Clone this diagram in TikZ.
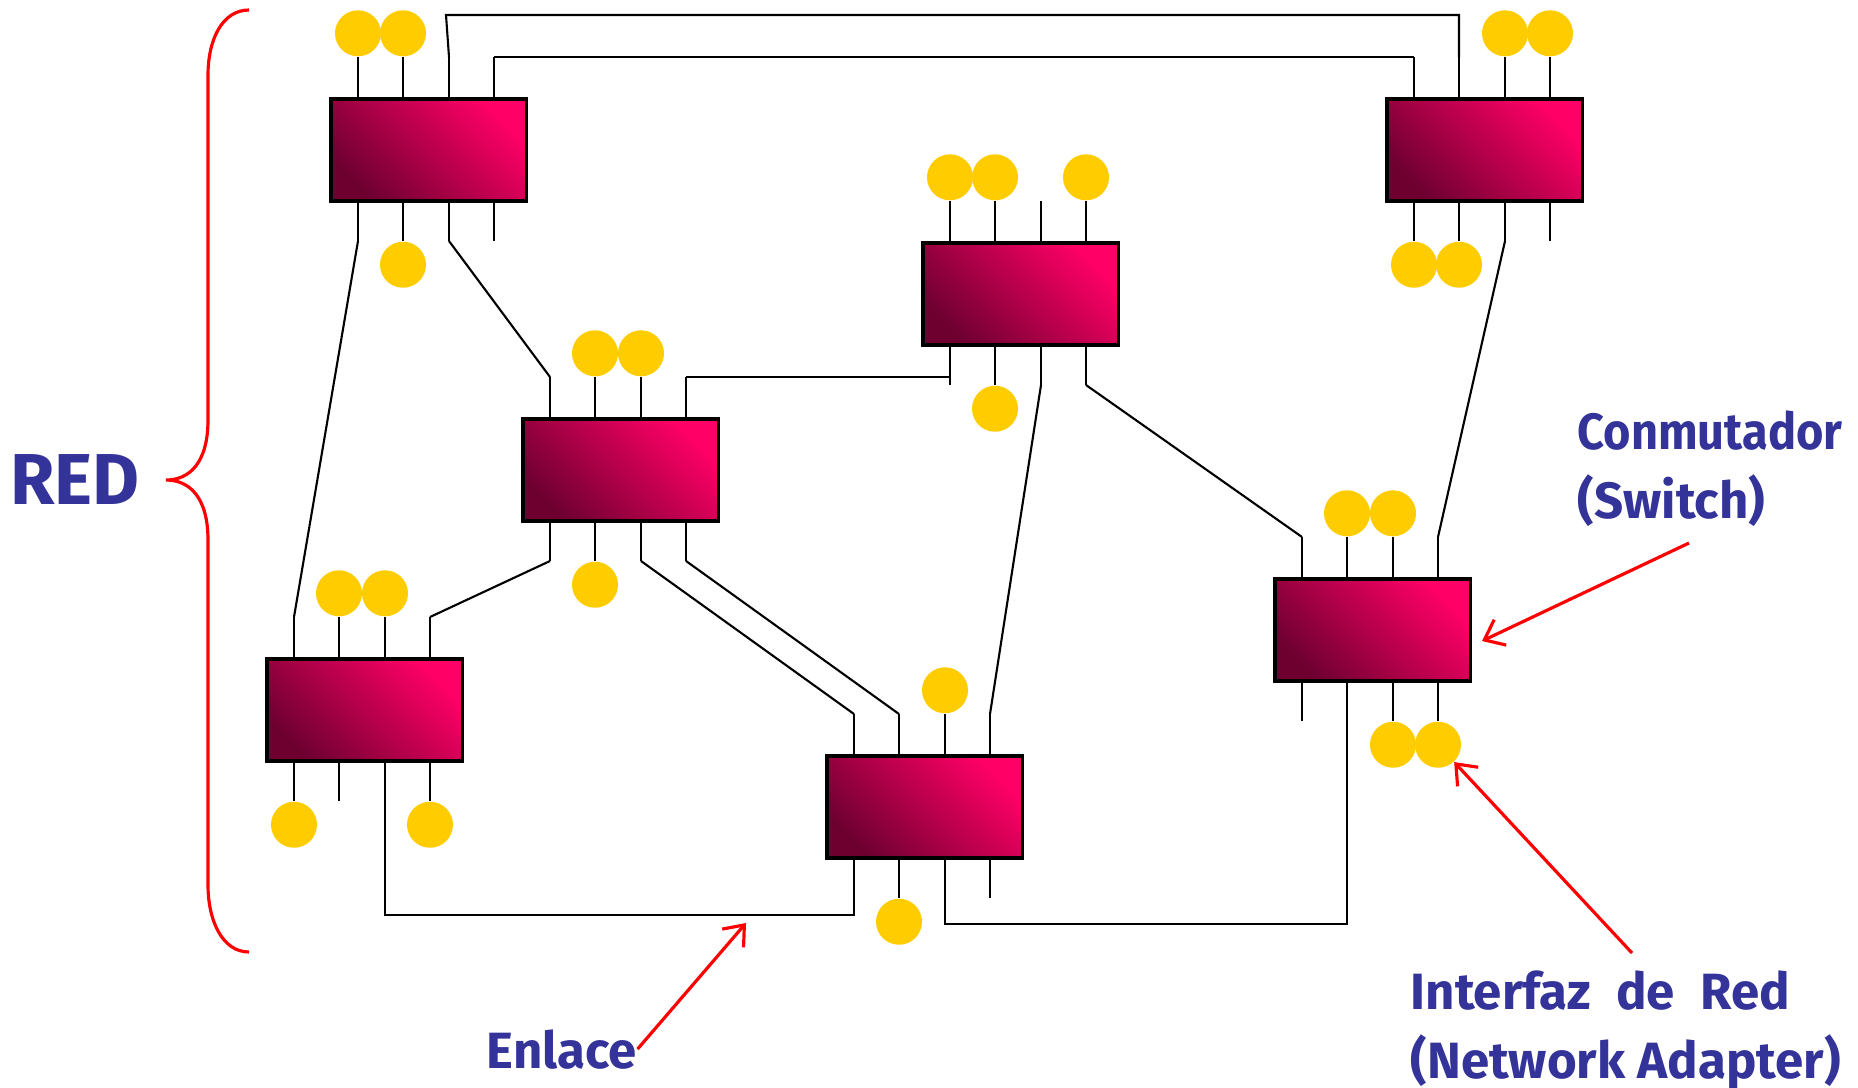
\documentclass[tikz,border=0pt]{standalone}
\usepackage{fontspec}
\setmainfont{Fira Sans}
\usetikzlibrary{arrows.meta}
\definecolor{swdark}{RGB}{110,0,48}
\definecolor{swpink}{RGB}{255,0,102}
\definecolor{nicyellow}{RGB}{255,204,0}
\definecolor{labelblue}{RGB}{51,51,153}
\begin{document}
\begin{tikzpicture}[x=0.01cm, y=-0.01cm,
  switch/.style={draw=black, line width=0.9pt, minimum width=1.95cm, minimum height=1.02cm,
    inner sep=0pt, outer sep=0pt, bottom color=swdark, top color=swpink, shading angle=-45},
  nic/.style={circle, fill=nicyellow, minimum size=0.46cm, inner sep=0pt},
  stub/.style={line width=0.6pt},
  link/.style={line width=0.6pt},
  pointer/.style={red, line width=0.9pt, -{Straight Barb[length=5pt,width=8pt]}},
  label/.style={text=labelblue, font=\bfseries\fontsize{14.5}{19.6}\selectfont, align=left, inner sep=0pt}]
\useasboundingbox (0,0) rectangle (1858,1087);
% one switch with its ports: name, left, top
\def\switchbox#1#2#3{
  \node[switch, anchor=north west] (#1) at (#2,#3) {};
  \foreach \i/\dx in {1/27,2/72,3/118,4/163}{
    \draw[stub] (#2+\dx,#3) -- (#2+\dx,#3-42) coordinate (#1-t\i);
    \draw[stub] (#2+\dx,#3+102) -- (#2+\dx,#3+142) coordinate (#1-b\i);
  }
}
% the switches
\switchbox{swA}{331}{99}
\switchbox{swB}{1387}{99}
\switchbox{swC}{923}{243}
\switchbox{swD}{523}{419}
\switchbox{swE}{267}{659}
\switchbox{swF}{827}{756}
\switchbox{swG}{1275}{579}
% network adapters
\foreach \s/\k in {swA/1,swA/2,swB/3,swB/4,swC/1,swC/2,swC/4,swD/2,swD/3,swE/2,swE/3,swF/3,swG/2,swG/3}
  \node[nic, anchor=south] (\s-u\k) at (\s-t\k) {};
\foreach \s/\k in {swA/2,swB/1,swB/2,swC/2,swD/2,swE/1,swE/4,swF/2,swG/3,swG/4}
  \node[nic, anchor=north] (\s-d\k) at (\s-b\k) {};
% links
\draw[link] (swA-t3) -- ++(-3,-42) -| (swB-t2);
\draw[link] (swA-t4) -- (swB-t1);
\draw[link] (swA-b1) -- (swE-t1);
\draw[link] (swA-b3) -- (swD-t1);
\draw[link] (swD-t4) -- (swD-t4 -| swC-b1);
\draw[link] (swD-b1) -- (swE-t4);
\draw[link] (swD-b3) -- (swF-t1);
\draw[link] (swD-b4) -- (swF-t2);
\draw[link] (swC-b3) -- (swF-t4);
\draw[link] (swC-b4) -- (swG-t1);
\draw[link] (swB-b3) -- (swG-t4);
\draw[link] (swE-b3) -- ++(0,114) -| (swF-b1);
\draw[link] (swF-b3) -- ++(0,26) -| (swG-b2);
% brace
\draw[red, line width=0.9pt] (249,10) .. controls (222,10) and (208,40) .. (208,75) -- (208,420)
  .. controls (208,462) and (190,480) .. (166,480) .. controls (190,480) and (208,498) .. (208,540)
  -- (208,885) .. controls (208,920) and (222,952) .. (249,952);
% labels
\node[label, font=\bfseries\fontsize{20.5}{24}\selectfont] (red) at (75,480) {RED};
\node[label, anchor=north west] (switchlabel) at (1577,410) {{\addfontfeatures{FakeStretch=0.92}Conmutador}\\(Switch)};
\node[label, anchor=north west] (niclabel) at (1410,970) {\spaceskip=0.5em Interfaz de Red\\(Network Adapter)};
\node[label, anchor=base west] (linklabel) at (486,1068) {Enlace};
% pointers
\coordinate (linktip) at (746,923);
\coordinate (switchtail) at (1689,543);
\coordinate (switchtip) at (1482,641);
\coordinate (nictail) at (1632,953);
\draw[pointer] (linklabel.east) -- (linktip);
\draw[pointer] (switchtail) -- (switchtip);
\draw[pointer] (nictail) -- (swG-d4);
\end{tikzpicture}
\end{document}
